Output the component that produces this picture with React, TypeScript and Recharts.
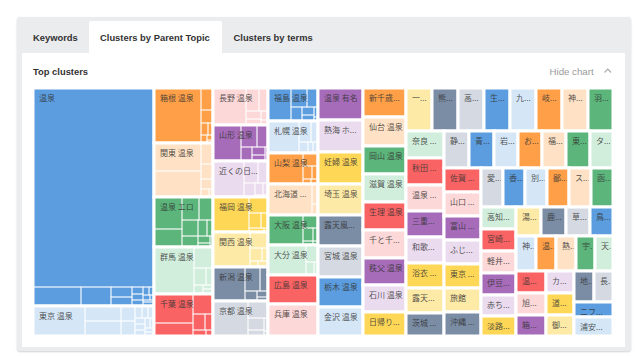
import React from 'react';
import { Treemap } from 'recharts';

const palette = [
  '#5b9ddf', '#d5e6f7', '#ffa049', '#ffe2c5', '#5cb67b', '#d1eedc', '#f96363',
  '#fdd8d8', '#a76cb9', '#ebdbef', '#fed757', '#feeaa7', '#7b8da5', '#d5dae2',
];

const tabLabels = ['Keywords', 'Clusters by Parent Topic', 'Clusters by terms'];

const clusterNames = [
  '温泉', '東京 温泉', '箱根 温泉', '関東 温泉', '温泉 エロ', '群馬 温泉', '千葉 温泉',
  '長野 温泉', '山形 温泉', '近くの日...', '福岡 温泉', '関西 温泉', '新潟 温泉', '京都 温泉',
  '福島 温泉', '札幌 温泉', '山梨 温泉', '北海道 ...', '大阪 温泉', '大分 温泉', '広島 温泉', '兵庫 温泉',
  '温泉 有名', '熱海 ホ...', '妊婦 温泉', '埼玉 温泉', '露天風...', '宮城 温泉', '栃木 温泉', '金沢 温泉',
  '新千歳...', '仙台 温泉', '岡山 温泉', '滋賀 温泉', '生理 温泉', '千と千...', '秩父 温泉', '石川 温泉', '日帰り...',
  '一...', '熊...', '高...', '生...', '九...', '岐...', '神...', '羽...',
  '奈良 ...', '秋田 ...', '温泉 ...', '三重...', '和歌...', '浴衣 ...', '露天...', '茨城 ...',
  '静...', '青...', '岩...', 'お...', '福...', '東...', 'タ...',
  '佐賀 ...', '山口 ...', '富山 ...', 'ふじ...', '東京 ...', '旅館', '沖縄 ...',
  '愛...', '香...', '別...', '鄙...', 'ス...', '函...',
  '高知...', '宮崎...', '軽井...', '伊豆...', '赤ち...', '淡路...',
  '湯...', '鹿...', '草...', '鳥...',
  '神...', '温...', '熱...', '宇...', '天...',
  '温...', '旭...', '箱...',
  'カ...', '道...', '御...',
  '地...', '長...', 'ニフ...', '浦安...',
];

const clusterVolumes = [
  26350, 3700, 3245, 3157, 2950, 2773, 2508,
  2017, 1989, 1962, 1935, 1908, 1880, 1826,
  1634, 1609, 1559, 1535, 1510, 1510, 1470, 1465,
  1460, 1440, 1418, 1395, 1373, 1373, 1350, 1350,
  1236, 1236, 1205, 1201, 1197, 1188, 1179, 1157, 1151,
  1135, 1130, 1120, 1115, 1110, 1110, 1105, 1105,
  1018, 1012, 1002, 996, 981, 966, 960, 945,
  910, 907, 904, 901, 898, 896, 893,
  892, 891, 889, 887, 884, 882, 879,
  870, 865, 860, 855, 850, 845,
  768, 763, 758, 753, 748, 745,
  722, 714, 710, 696,
  703, 693, 683, 673, 666,
  662, 657, 651,
  616, 612, 608,
  605, 600, 595, 570,
];

const subclusterVolumes: (number[] | null)[] = [
  [24079, 912, 570, 200, 190, 80, 70, 60, 50, 40, 35, 25, 20, 19],
  [1590, 560, 540, 220, 200, 80, 75, 70, 65, 60, 55, 50, 45, 40, 30, 20],
  [2585, 260, 150, 80, 60, 50, 30, 30],
  [1300, 1200, 250, 180, 120, 60, 47],
  [900, 520, 400, 300, 250, 180, 140, 100, 80, 50, 30],
  [1900, 400, 200, 120, 80, 40, 33],
  [1150, 500, 400, 200, 120, 80, 58],
  [1200, 300, 200, 120, 90, 60, 47],
  [1000, 350, 250, 150, 100, 80, 59],
  [1100, 300, 220, 150, 100, 60, 32],
  [1250, 300, 180, 100, 60, 45],
  [1300, 280, 150, 90, 50, 38],
  [1100, 350, 200, 120, 70, 40],
  [1150, 320, 180, 100, 50, 26],
  [750, 300, 200, 150, 100, 70, 40, 24],
  [1000, 250, 150, 100, 60, 49],
  [1100, 200, 120, 80, 40, 19],
  [1350, 120, 65],
  [1050, 200, 130, 70, 40, 20],
  [1150, 200, 100, 60],
];

const treeData = clusterNames.map((name, i) => {
  const subs = subclusterVolumes[i];
  if (subs && subs.length) {
    return { name, children: subs.map((v, j) => ({ name: `${name} ${j + 1}`, size: v })) };
  }
  return { name, size: clusterVolumes[i] };
});

function CellLabel({ x, y, width, height, text, id }: any) {
  if (!(width > 6) || !(height > 10)) return null;
  const cid = `tm-clip-${id}`;
  return (
    <g>
      <defs>
        <clipPath id={cid}>
          <rect x={x + 1.5} y={y + 1.5} width={Math.max(0, width - 4)} height={Math.max(0, height - 3)} />
        </clipPath>
      </defs>
      <text
        x={x + 6}
        y={y + 12.5}
        clipPath={`url(#${cid})`}
        fontSize={8}
        fill="#333"
        fillOpacity={0.85}
        fontFamily="'Noto Sans CJK JP', 'Noto Sans', sans-serif"
      >
        {text}
      </text>
    </g>
  );
}

function renderCell(props: any) {
  const { depth, x, y, width, height, index, root, name } = props;
  if (!depth || width == null || height == null) return <g />;
  if (depth === 1) {
    const color = palette[index % palette.length];
    const hasKids = Array.isArray(props.children) && props.children.length > 0;
    return (
      <g>
        <rect x={x} y={y} width={width} height={height} fill={color} stroke="#fff" strokeWidth={3} />
        {!hasKids && <CellLabel x={x} y={y} width={width} height={height} text={name} id={index} />}
      </g>
    );
  }
  const isLast = root && Array.isArray(root.children) && index === root.children.length - 1;
  return (
    <g>
      <rect x={x} y={y} width={width} height={height} fill="none" stroke="#fff" strokeOpacity={0.75} strokeWidth={0.9} />
      {isLast && (
        <CellLabel x={root.x} y={root.y} width={root.width} height={root.height} text={root.name} id={root.index} />
      )}
    </g>
  );
}

export default function App() {
  const sans = "'Liberation Sans', Arial, Helvetica, sans-serif";
  return (
    <div style={{ position: 'absolute', left: 0, top: 0, width: 640, height: 357, background: '#fff', overflow: 'hidden' }}>
      <div style={{ position: 'absolute', left: 17, top: 17, width: 614, height: 334, background: '#ebecee', borderRadius: 3, boxShadow: '0 1px 2px rgba(0,0,0,0.18)' }} />
      <div style={{ position: 'absolute', left: 89, top: 21, width: 133, height: 33, background: '#fff', borderRadius: '2px 2px 0 0' }} />
      <div style={{ position: 'absolute', left: 22, top: 53, width: 603, height: 294, background: '#fff' }} />
      <svg style={{ position: 'absolute', left: 0, top: 0 }} width={640} height={357}>
        <text x={33} y={40.5} fontSize={9.4} fontWeight={700} fill="#333" fontFamily={sans}>{tabLabels[0]}</text>
        <text x={100} y={40.5} fontSize={9.4} fontWeight={700} fill="#333" fontFamily={sans}>{tabLabels[1]}</text>
        <text x={233.5} y={40.5} fontSize={9.4} fontWeight={700} fill="#333" fontFamily={sans}>{tabLabels[2]}</text>
        <text x={33} y={74.5} fontSize={9.4} fontWeight={700} fill="#333" fontFamily={sans}>Top clusters</text>
        <text x={549.5} y={74.5} fontSize={9.7} fill="#9a9a9a" fontFamily={sans}>Hide chart</text>
        <polyline points="604.5,72.5 607.8,69 611.1,72.5" fill="none" stroke="#aaa" strokeWidth={1.1} />
      </svg>
      <div style={{ position: 'absolute', left: 33, top: 88, width: 580, height: 248 }}>
        <Treemap
          width={580}
          height={248}
          data={treeData}
          dataKey="size"
          nameKey="name"
          aspectRatio={1.5}
          isAnimationActive={false}
          content={renderCell as any}
        />
      </div>
    </div>
  );
}
